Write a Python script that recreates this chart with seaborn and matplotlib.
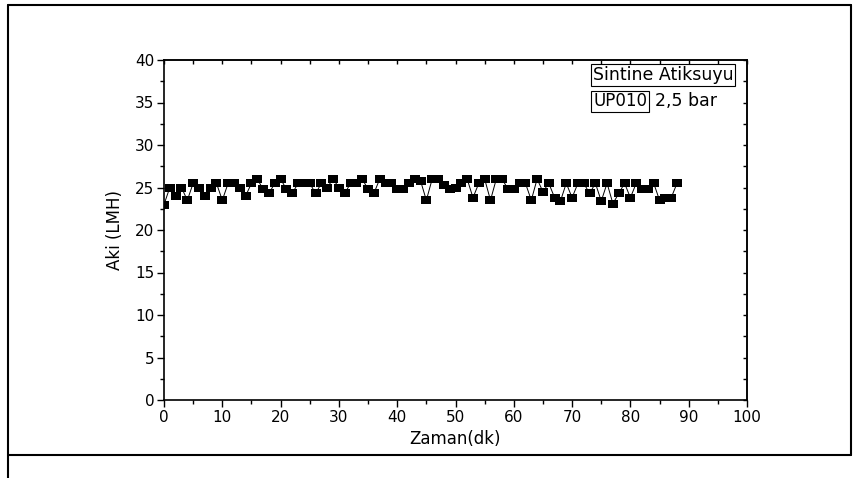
import numpy as np
import pandas as pd
import matplotlib
matplotlib.use("Agg")
import matplotlib.pyplot as plt
from matplotlib.path import Path
from matplotlib.lines import Line2D
import seaborn as sns

# ---- data ----
zaman = list(range(0, 89))
aki = [
    23.0, 25.0, 24.0, 25.0, 23.5, 25.5, 25.0, 24.0, 25.0, 25.5,
    23.5, 25.5, 25.5, 25.0, 24.0, 25.5, 26.0, 24.8, 24.3, 25.5,
    26.0, 24.8, 24.3, 25.5, 25.5, 25.5, 24.3, 25.5, 25.0, 26.0,
    25.0, 24.3, 25.5, 25.5, 26.0, 24.8, 24.3, 26.0, 25.5, 25.5,
    24.8, 24.8, 25.5, 26.0, 25.8, 23.5, 26.0, 26.0, 25.3, 24.8,
    25.0, 25.5, 26.0, 23.8, 25.5, 26.0, 23.5, 26.0, 26.0, 24.8,
    24.8, 25.5, 25.5, 23.5, 26.0, 24.5, 25.5, 23.8, 23.4, 25.5,
    23.8, 25.5, 25.5, 24.3, 25.5, 23.4, 25.5, 23.1, 24.3, 25.5,
    23.8, 25.5, 24.8, 24.8, 25.5, 23.5, 23.8, 23.8, 25.5,
]
x_ticks = [0, 10, 20, 30, 40, 50, 60, 70, 80, 90, 100]
y_ticks = [0, 5, 10, 15, 20, 25, 30, 35, 40]
x_label = "Zaman(dk)"
y_label = "Aki (LMH)"
legend_title = "Sintine Atiksuyu"
legend_series = "UP010"
legend_text = "2,5 bar"

df = pd.DataFrame({"Zaman": zaman, "Aki": aki})

sns.set_style("ticks")
plt.rcParams["font.family"] = ["DejaVu Sans"]
plt.rcParams["text.color"] = "black"
plt.rcParams["axes.labelcolor"] = "black"
plt.rcParams["xtick.color"] = "black"
plt.rcParams["ytick.color"] = "black"

W, H = 859, 478
fig = plt.figure(figsize=(W / 100, H / 100), dpi=100)
L, R, T, B = 164, 747, 60, 400
ax = fig.add_axes([L / W, (H - B) / H, (R - L) / W, (B - T) / H])

rect_marker = Path([(-0.6, -0.5), (0.6, -0.5), (0.6, 0.5), (-0.6, 0.5), (-0.6, -0.5)],
                   [Path.MOVETO, Path.LINETO, Path.LINETO, Path.LINETO, Path.CLOSEPOLY])

sns.lineplot(data=df, x="Zaman", y="Aki", ax=ax, color="black", linewidth=0.7,
             marker=rect_marker, markersize=6.8, markeredgewidth=0,
             markerfacecolor="black", legend=False)

ax.set_xlim(0, 100)
ax.set_ylim(0, 40)
ax.set_xticks(x_ticks)
ax.set_yticks(y_ticks)
ax.set_xticks(np.arange(5, 100, 10), minor=True)
ax.set_yticks(np.arange(2.5, 40, 5), minor=True)
ax.tick_params(axis="both", which="major", direction="out", length=5, width=1,
               labelsize=11, colors="black", pad=2)
ax.tick_params(axis="both", which="minor", direction="out", length=3, width=1)
ax.tick_params(axis="x", which="both", top=False, labeltop=False)
ax.tick_params(axis="y", which="both", right=False, labelright=False)
# small inward ticks on the top and right frame
secx = ax.secondary_xaxis("top")
secx.set_xticks(np.arange(0, 101, 5))
secx.tick_params(direction="in", length=3, width=1, labeltop=False)
secx.set_xticklabels([])
secy = ax.secondary_yaxis("right")
secy.set_yticks(np.arange(0, 41, 2.5))
secy.tick_params(direction="in", length=3, width=1, labelright=False)
secy.set_yticklabels([])
for s in (secx, secy):
    for sp in s.spines.values():
        sp.set_linewidth(1.2)
for sp in ax.spines.values():
    sp.set_linewidth(1.2)
    sp.set_color("black")
    sp.set_visible(True)

ax.set_xlabel(x_label, fontsize=12, labelpad=4)
ax.set_ylabel(y_label, fontsize=12, labelpad=8)

# legend-like text boxes (Origin style)
ax.text(0.736, 0.983, legend_title, transform=ax.transAxes, fontsize=12.5,
        ha="left", va="top",
        bbox=dict(boxstyle="square,pad=0.1", fc="white", ec="black", lw=0.8))
ax.text(0.736, 0.905, legend_series, transform=ax.transAxes, fontsize=12,
        ha="left", va="top",
        bbox=dict(boxstyle="square,pad=0.1", fc="white", ec="black", lw=0.8))
ax.text(0.843, 0.905, legend_text, transform=ax.transAxes, fontsize=12.5,
        ha="left", va="top")

# outer frame
def fline(x0, y0, x1, y1):
    fig.add_artist(Line2D([x0 / W, x1 / W], [1 - y0 / H, 1 - y1 / H],
                          color="black", lw=1.5, transform=fig.transFigure))

fline(8, 5, 851, 5)
fline(8, 5, 8, 478)
fline(851, 5, 851, 455)
fline(8, 455, 851, 455)

fig.savefig("out.png", dpi=100)
